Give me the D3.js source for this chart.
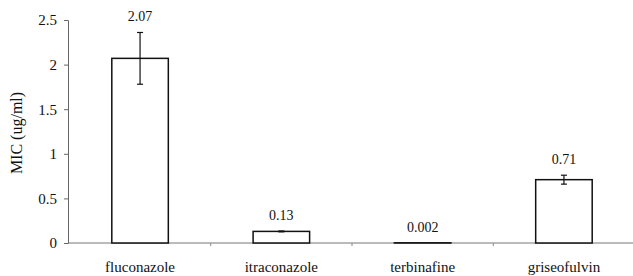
<!DOCTYPE html>
<html>
<head>
<meta charset="utf-8">
<script src="https://cdn.jsdelivr.net/npm/d3@7"></script>
<style>
  body { margin: 0; background: #fff; }
  text { font-family: "Liberation Serif", "Times New Roman", serif; fill: #111; }
</style>
</head>
<body>
<script>
var w = 633;
var h = 276;

// data
var drugs = ["fluconazole", "itraconazole", "terbinafine", "griseofulvin"];
var mic = [2.07, 0.13, 0.002, 0.71];
var micErr = [0.29, 0.005, 0, 0.05];
var micLabels = ["2.07", "0.13", "0.002", "0.71"];
var yTicks = [0, 0.5, 1, 1.5, 2, 2.5];

var rows = drugs.map(function(d, i) {
  return {name: d, v: mic[i], e: micErr[i], lab: micLabels[i]};
});

var svg = d3.select("body").append("svg")
  .attr("width", w)
  .attr("height", h);

var x = d3.scaleBand()
  .domain(drugs)
  .range([68, 636])
  .paddingInner(0.6)
  .paddingOuter(0.31);

var y = d3.scaleLinear()
  .domain([0, 2.5])
  .range([243, 20]);

// y axis
var yAxis = svg.append("g")
  .attr("transform", "translate(68,0)")
  .call(d3.axisLeft(y).tickValues(yTicks).tickSize(4).tickPadding(7)
    .tickFormat(function(d) { return d; }));
yAxis.attr("font-family", null).attr("font-size", null);
yAxis.select(".domain").attr("stroke", "#666");
yAxis.selectAll(".tick line").attr("stroke", "#666");
yAxis.selectAll(".tick text")
  .style("font-family", "'Liberation Serif', serif")
  .style("font-size", "15px")
  .attr("fill", "#111");

// baseline
svg.append("line")
  .attr("x1", 68).attr("x2", w)
  .attr("y1", y(0)).attr("y2", y(0))
  .attr("stroke", "#777")
  .attr("stroke-width", 1);

// faint category separators
var bounds = [];
for (var i = 1; i < drugs.length; i++) {
  bounds.push((x(drugs[i - 1]) + x(drugs[i]) + x.bandwidth()) / 2);
}
svg.selectAll("line.sep")
  .data(bounds).enter()
  .append("line")
  .attr("class", "sep")
  .attr("x1", function(d) { return d; })
  .attr("x2", function(d) { return d; })
  .attr("y1", y(0)).attr("y2", y(0) + 3)
  .attr("stroke", "#888");

// bars
svg.selectAll("rect.bar")
  .data(rows).enter()
  .append("rect")
  .attr("class", "bar")
  .attr("x", function(d) { return x(d.name); })
  .attr("width", x.bandwidth())
  .attr("y", function(d) { return y(d.v); })
  .attr("height", function(d) { return y(0) - y(d.v); })
  .attr("fill", "#fff")
  .attr("stroke", "#111")
  .attr("stroke-width", 1.5);

// error bars
var eb = svg.selectAll("g.err")
  .data(rows.filter(function(d) { return d.e > 0; })).enter()
  .append("g")
  .attr("class", "err")
  .attr("stroke", "#111")
  .attr("stroke-width", 1.2);
eb.append("line")
  .attr("x1", function(d) { return x(d.name) + x.bandwidth() / 2; })
  .attr("x2", function(d) { return x(d.name) + x.bandwidth() / 2; })
  .attr("y1", function(d) { return y(d.v + d.e); })
  .attr("y2", function(d) { return y(d.v - d.e); });
[1, -1].forEach(function(s) {
  eb.append("line")
    .attr("x1", function(d) { return x(d.name) + x.bandwidth() / 2 - 3; })
    .attr("x2", function(d) { return x(d.name) + x.bandwidth() / 2 + 3; })
    .attr("y1", function(d) { return y(d.v + s * d.e); })
    .attr("y2", function(d) { return y(d.v + s * d.e); });
});

// value labels
svg.selectAll("text.val")
  .data(rows).enter()
  .append("text")
  .attr("class", "val")
  .attr("x", function(d) { return x(d.name) + x.bandwidth() / 2; })
  .attr("y", function(d) { return y(d.v + d.e) - 11; })
  .attr("text-anchor", "middle")
  .style("font-size", "14px")
  .text(function(d) { return d.lab; });

// category labels
svg.selectAll("text.cat")
  .data(drugs).enter()
  .append("text")
  .attr("class", "cat")
  .attr("x", function(d) { return x(d) + x.bandwidth() / 2; })
  .attr("y", 272)
  .attr("text-anchor", "middle")
  .style("font-size", "15px")
  .text(function(d) { return d; });

// y title
svg.append("text")
  .attr("transform", "translate(22,133) rotate(-90)")
  .attr("text-anchor", "middle")
  .style("font-size", "16px")
  .text("MIC (ug/ml)");
</script>
</body>
</html>
